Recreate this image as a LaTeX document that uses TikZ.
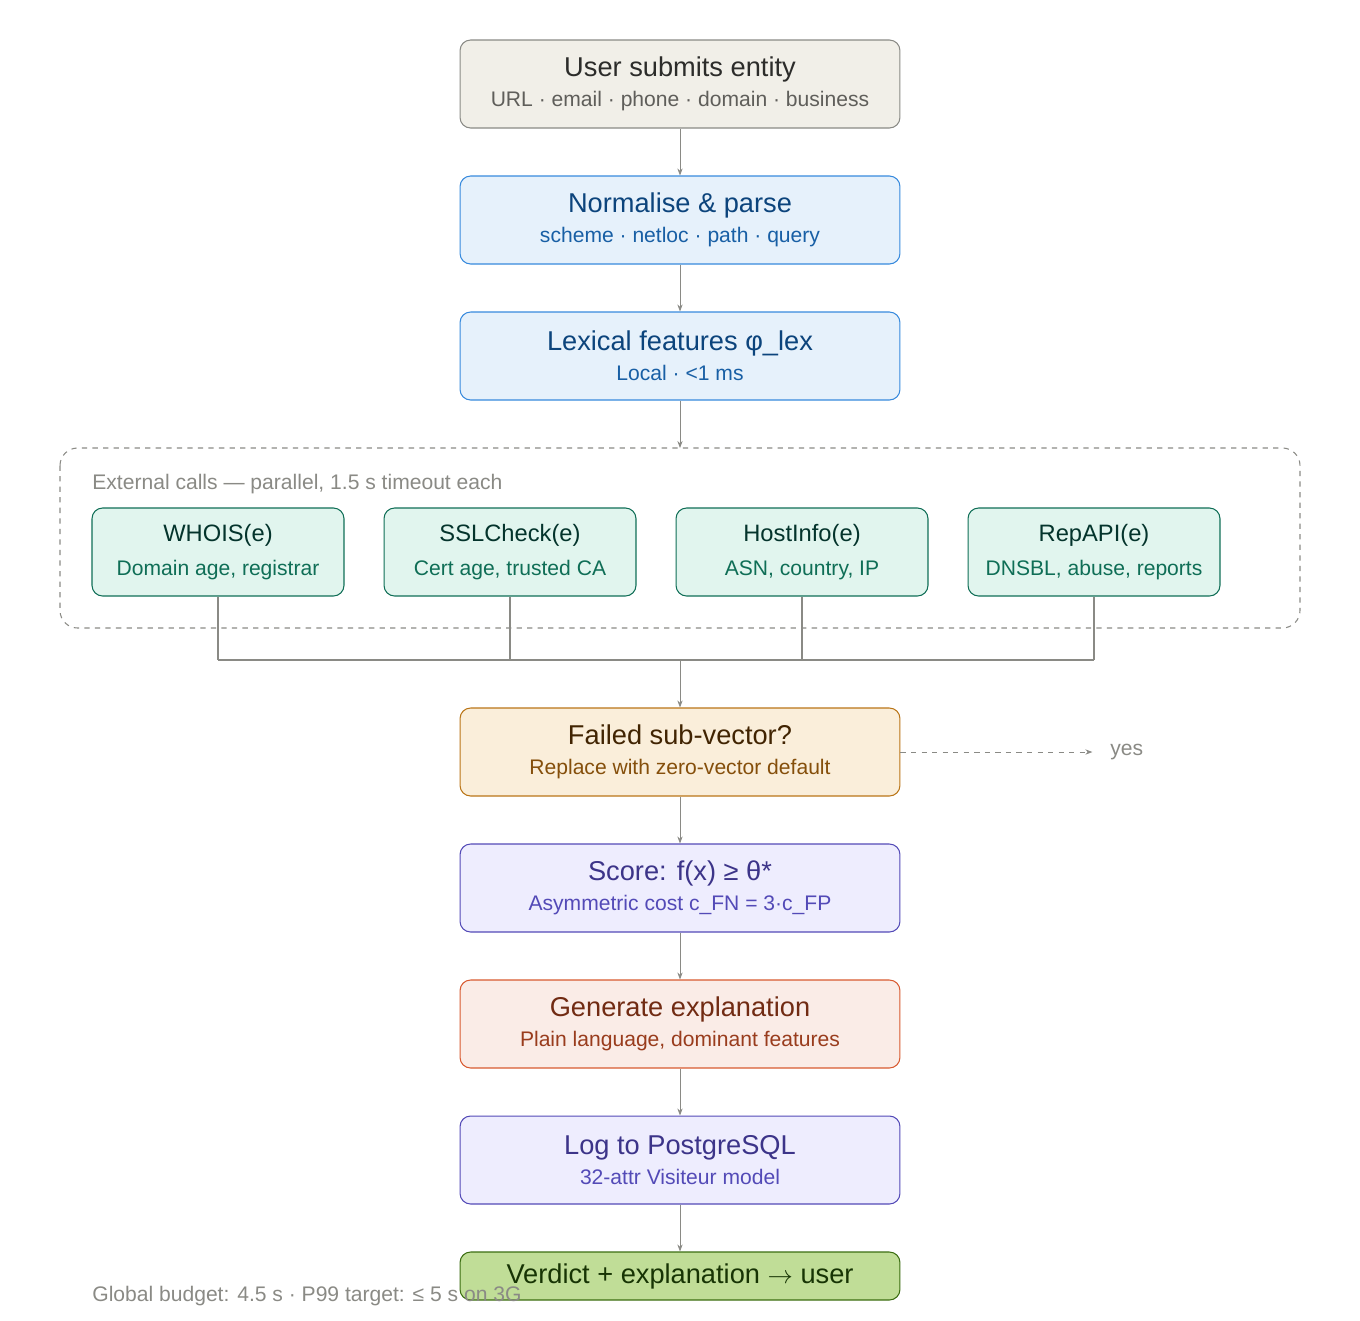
\documentclass[tikz,border=0pt]{standalone}
\usepackage{fontspec}
\setmainfont{Liberation Sans}
\usepackage{xcolor}
\usetikzlibrary{arrows.meta}
\usetikzlibrary{positioning}
\definecolor{grayLine}{HTML}{8A8A85}
\definecolor{userFill}{HTML}{F1EFE8}\definecolor{userText}{HTML}{2C2C2A}\definecolor{userSub}{HTML}{5F5E5A}
\definecolor{blueFill}{HTML}{E6F1FB}\definecolor{blueDraw}{HTML}{378ADD}\definecolor{blueText}{HTML}{0C447C}\definecolor{blueSub}{HTML}{185FA5}
\definecolor{tealFill}{HTML}{E1F5EE}\definecolor{tealDraw}{HTML}{0F6E56}\definecolor{tealText}{HTML}{04342C}\definecolor{tealSub}{HTML}{0F6E56}
\definecolor{amberFill}{HTML}{FAEEDA}\definecolor{amberDraw}{HTML}{BA7517}\definecolor{amberText}{HTML}{412402}\definecolor{amberSub}{HTML}{854F0B}
\definecolor{purpFill}{HTML}{EEEDFE}\definecolor{purpDraw}{HTML}{534AB7}\definecolor{purpText}{HTML}{3C3489}\definecolor{purpSub}{HTML}{534AB7}
\definecolor{coralFill}{HTML}{FAECE7}\definecolor{coralDraw}{HTML}{D85A30}\definecolor{coralText}{HTML}{712B13}\definecolor{coralSub}{HTML}{993C1D}
\definecolor{greenFill}{HTML}{C0DD97}\definecolor{greenDraw}{HTML}{3B6D11}\definecolor{greenText}{HTML}{173404}
\tikzset{
  box/.style={draw, rounded corners=6pt, minimum width=8.8cm, minimum height=1.76cm, align=center, line width=0.6pt},
  extbox/.style={box, minimum width=5.04cm, fill=tealFill, draw=tealDraw},
  flow/.style={draw=grayLine, line width=0.5pt, -{Stealth[length=4pt,width=3pt]}},
  bus/.style={draw=grayLine, line width=0.6pt},
  note/.style={anchor=west, inner sep=0pt, text=grayLine, font=\fontsize{12}{14}\selectfont},
}
\newcommand{\boxtext}[4]{{\fontsize{15.5}{18}\selectfont\color{#1}#2}\\[5pt]{\fontsize{12}{14}\selectfont\color{#3}#4}}
\begin{document}
\begin{tikzpicture}[x=0.02cm, y=-0.02cm]
\useasboundingbox (0,0) rectangle (1360,1320);
% main column
\node[box, fill=userFill, draw=grayLine] (user) at (680,84) {\boxtext{userText}{User submits entity}{userSub}{URL · email · phone · domain · business}};
\node[box, fill=blueFill, draw=blueDraw] (norm) at (680,220) {\boxtext{blueText}{Normalise \& parse}{blueSub}{scheme · netloc · path · query}};
\node[box, fill=blueFill, draw=blueDraw] (lex) at (680,356) {\boxtext{blueText}{Lexical features φ\_lex}{blueSub}{Local · <1 ms}};
% external calls group
\draw[grayLine, dashed, rounded corners=10pt, line width=0.6pt] (60,448) rectangle (1300,628);
\coordinate (grpTop) at (680,448);
\node[note] (grpLabel) at (92,484) {External calls — parallel, 1.5 s timeout each};
\foreach \x/\name/\title/\sub in {218/whois/WHOIS(e)/{Domain age, registrar}, 510/ssl/SSLCheck(e)/{Cert age, trusted CA}, 802/host/HostInfo(e)/{ASN, country, IP}, 1094/rep/RepAPI(e)/{DNSBL, abuse, reports}}
{
  \node[extbox] (\name) at (\x,552) {{\fontsize{13.5}{16}\selectfont\color{tealText}\title}\\[7pt]{\fontsize{12}{14}\selectfont\color{tealSub}\sub}};
  \coordinate (\name Bus) at (\x,660);
  \draw[bus] (\name) -- (\name Bus);
}
\draw[bus] (whoisBus) -- (repBus);
\coordinate (busMid) at (680,660);
\node[box, fill=amberFill, draw=amberDraw] (fail) at (680,752) {\boxtext{amberText}{Failed sub-vector?}{amberSub}{Replace with zero-vector default}};
\node[box, fill=purpFill, draw=purpDraw] (score) at (680,888) {\boxtext{purpText}{Score: f(x) ≥ θ*}{purpSub}{Asymmetric cost c\_FN = 3·c\_FP}};
\node[box, fill=coralFill, draw=coralDraw] (expl) at (680,1024) {\boxtext{coralText}{Generate explanation}{coralSub}{Plain language, dominant features}};
\node[box, fill=purpFill, draw=purpDraw] (log) at (680,1160) {\boxtext{purpText}{Log to PostgreSQL}{purpSub}{32-attr Visiteur model}};
\node[box, fill=greenFill, draw=greenDraw, minimum height=0.96cm] (verdict) at (680,1276) {\fontsize{15.5}{18}\selectfont\color{greenText}Verdict + explanation \(\rightarrow\) user};
\node[note] (budget) at (92,1296) {Global budget: 4.5 s · P99 target: ≤ 5 s on 3G};
\node[note] (yes) at (1110,752) {yes};
% connectors
\draw[flow] (user) -- (norm);
\draw[flow] (norm) -- (lex);
\draw[flow] (lex) -- (grpTop);
\draw[flow] (busMid) -- (fail);
\draw[flow, dashed] (fail) -- ([xshift=-10]yes.west);
\draw[flow] (fail) -- (score);
\draw[flow] (score) -- (expl);
\draw[flow] (expl) -- (log);
\draw[flow] (log) -- (verdict);
\end{tikzpicture}
\end{document}
